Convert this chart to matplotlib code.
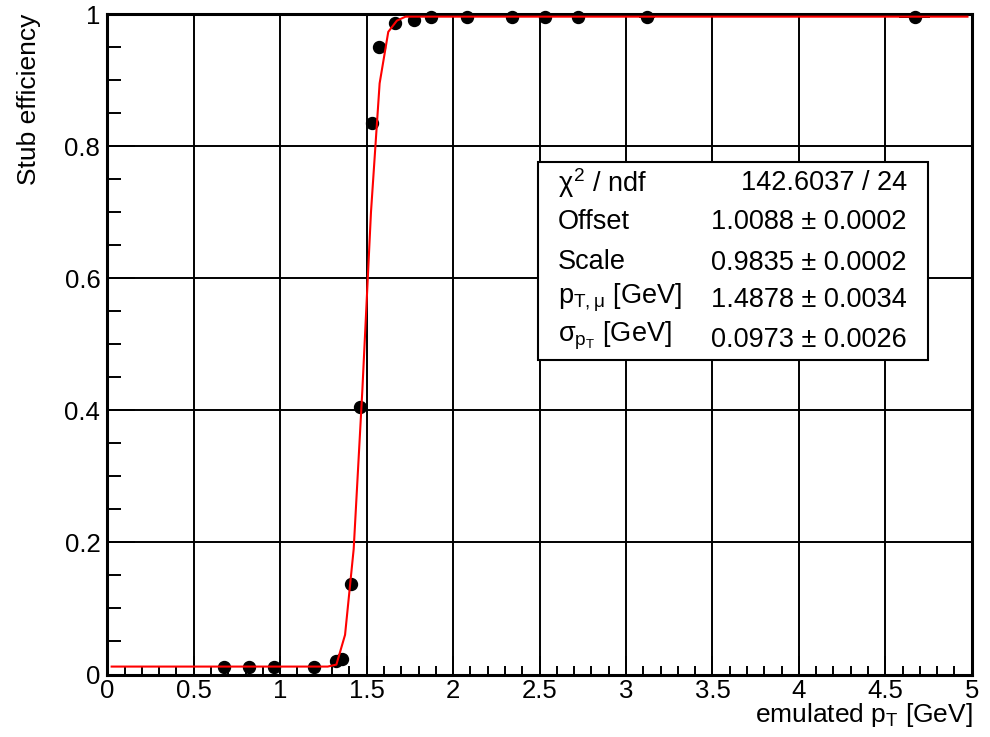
import matplotlib
matplotlib.use('Agg')
import matplotlib.pyplot as plt
from matplotlib.ticker import MultipleLocator
from matplotlib.patches import Rectangle

plt.rcParams['font.family'] = ['Liberation Sans', 'DejaVu Sans']
plt.rcParams['mathtext.fontset'] = 'custom'
plt.rcParams['mathtext.rm'] = 'Liberation Sans'
plt.rcParams['mathtext.it'] = 'Liberation Sans'
plt.rcParams['mathtext.bf'] = 'Liberation Sans:bold'

# measured efficiency points
pt = [0.675, 0.82, 0.965, 1.195, 1.32, 1.355, 1.41, 1.461, 1.533, 1.573,
      1.664, 1.774, 1.872, 2.08, 2.34, 2.53, 2.72, 3.12, 4.67]
eff = [0.0115, 0.0115, 0.0115, 0.0115, 0.02, 0.024, 0.137, 0.405, 0.835, 0.95,
       0.986, 0.991, 0.995, 0.995, 0.996, 0.996, 0.996, 0.996, 0.996]
pt_err = [0, 0, 0, 0, 0, 0, 0, 0, 0, 0,
          0, 0, 0, 0, 0, 0, 0, 0.045, 0.09]

# fitted curve
fit_x = [0.025, 1.275, 1.325, 1.375, 1.425, 1.475, 1.525, 1.575, 1.625,
         1.675, 1.725, 4.975]
fit_y = [0.012, 0.012, 0.015, 0.06, 0.19, 0.43, 0.70, 0.895, 0.973,
         0.99, 0.996, 0.996]

x_ticks = [0, 0.5, 1, 1.5, 2, 2.5, 3, 3.5, 4, 4.5, 5]
x_labels = ['0', '0.5', '1', '1.5', '2', '2.5', '3', '3.5', '4', '4.5', '5']
y_ticks = [0, 0.2, 0.4, 0.6, 0.8, 1.0]
y_labels = ['0', '0.2', '0.4', '0.6', '0.8', '1']

stat_names = [r'$\chi^{2}$ / ndf', 'Offset', 'Scale',
              r'$\mathrm{p}_{\mathrm{T,\mu}}$ [GeV]', r'$\sigma_{\mathrm{p}_{\mathrm{T}}}$ [GeV]']
stat_values = ['142.6037 / 24', '1.0088 \u00b1 0.0002', '0.9835 \u00b1 0.0002',
               '1.4878 \u00b1 0.0034', '0.0973 \u00b1 0.0026']

fig = plt.figure(figsize=(9.9, 7.37), dpi=100)
ax = fig.add_axes([0.1084, 0.0848, 0.8732, 0.8962])

ax.errorbar(pt, eff, xerr=pt_err, fmt='o', color='black', markersize=8.6,
            elinewidth=1.4, capsize=0, zorder=4, clip_on=False)
ax.plot(fit_x, fit_y, color='red', linewidth=1.5, zorder=5)

ax.set_xlim(0, 5)
ax.set_ylim(0, 1)
ax.set_xticks(x_ticks)
ax.set_xticklabels(x_labels)
ax.set_yticks(y_ticks)
ax.set_yticklabels(y_labels)
ax.xaxis.set_minor_locator(MultipleLocator(0.1))
ax.yaxis.set_minor_locator(MultipleLocator(0.05))

ax.grid(True, which='major', color='black', linewidth=1.4)
ax.set_axisbelow(True)
ax.tick_params(axis='x', which='major', direction='in', length=14, width=1.4,
               labelsize=18.5, pad=3)
ax.tick_params(axis='x', which='minor', direction='in', length=6.5, width=1.4)
ax.tick_params(axis='y', which='major', direction='in', length=20, width=1.4,
               labelsize=18.5, pad=5)
ax.tick_params(axis='y', which='minor', direction='in', length=10, width=1.4)
for s in ax.spines.values():
    s.set_linewidth(2.2)

fig.text(0.9828, 0.030, r'emulated $\mathrm{p}_{\mathrm{T}}$ [GeV]', ha='right',
         va='center', fontsize=19)
fig.text(0.029, 0.982, 'Stub efficiency', rotation=90, ha='center', va='top',
         fontsize=19)

# fit statistics box
box = Rectangle((0.498, 0.476), 0.451, 0.300, transform=ax.transAxes,
                facecolor='white', edgecolor='black', linewidth=1.5, zorder=6)
ax.add_patch(box)
name_y = [0.744, 0.685, 0.625, 0.571, 0.513]
value_y = [0.744, 0.685, 0.623, 0.567, 0.507]
for name, ny, val, vy in zip(stat_names, name_y, stat_values, value_y):
    ax.text(0.521, ny, name, transform=ax.transAxes, ha='left', va='center',
            fontsize=19.5, zorder=7)
    ax.text(0.925, vy, val, transform=ax.transAxes, ha='right',
            va='center', fontsize=19.5, zorder=7)

fig.savefig('out.png', dpi=100)
